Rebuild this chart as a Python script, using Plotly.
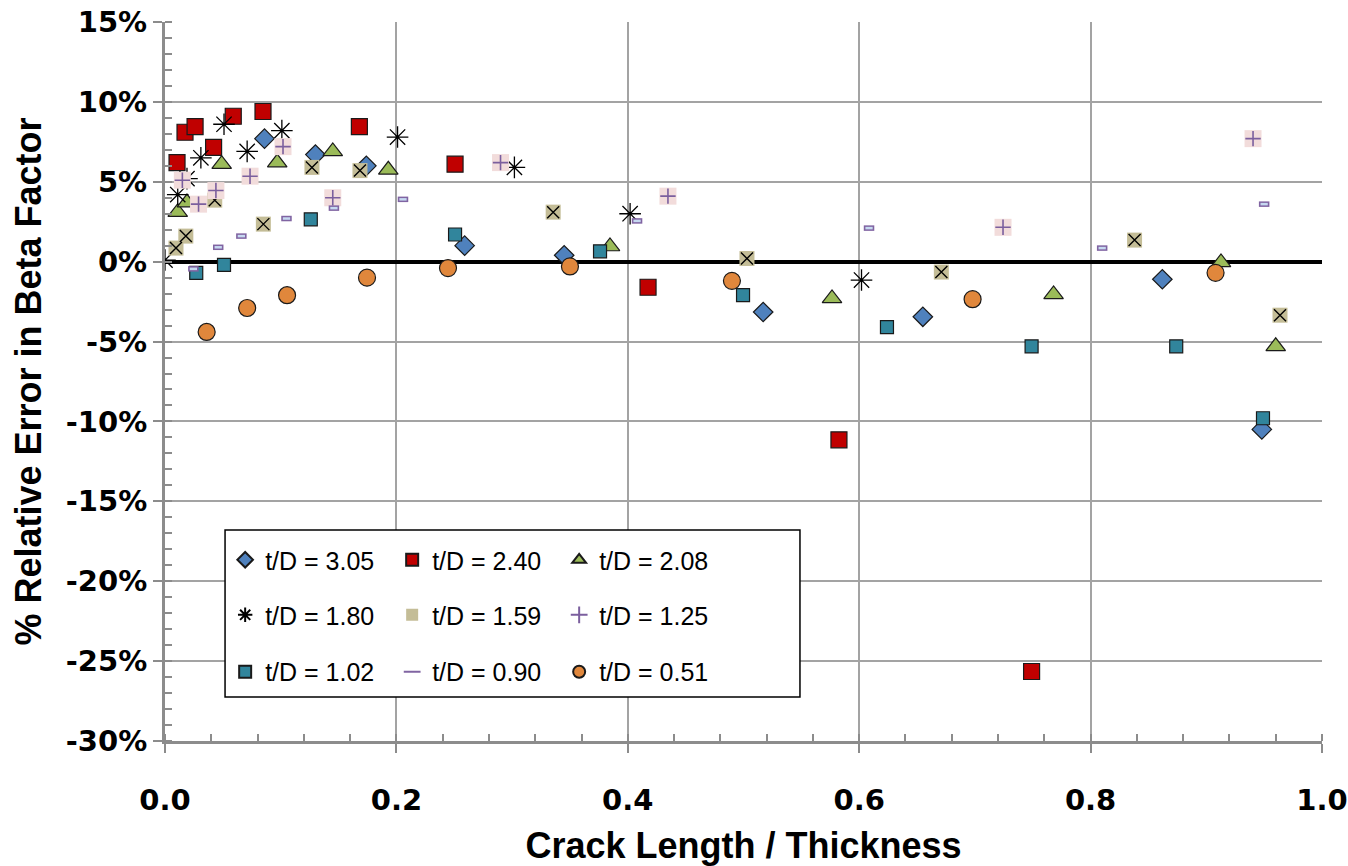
import plotly.graph_objects as go

# ---------------- data (percent relative error vs crack length / thickness) ----------------
x_305 = [0.086, 0.130, 0.174, 0.259, 0.345, 0.517, 0.655, 0.862, 0.948]
y_305 = [7.7, 6.7, 6.0, 1.0, 0.4, -3.15, -3.45, -1.1, -10.5]

x_240 = [0.0104, 0.0173, 0.026, 0.042, 0.059, 0.0847, 0.168, 0.2507, 0.4175, 0.5825, 0.749]
y_240 = [6.2, 8.1, 8.45, 7.15, 9.1, 9.4, 8.45, 6.1, -1.6, -11.15, -25.65]

x_208 = [0.011, 0.019, 0.049, 0.097, 0.145, 0.193, 0.3846, 0.5765, 0.768, 0.9127, 0.960]
y_208 = [3.1, 3.7, 6.1, 6.2, 6.9, 5.75, 0.95, -2.3, -2.05, -0.05, -5.3]

x_180 = [0.0, 0.011, 0.019, 0.031, 0.051, 0.071, 0.101, 0.201, 0.302, 0.402, 0.602]
y_180 = [0.1, 4.2, 5.2, 6.5, 8.6, 6.9, 8.2, 7.8, 5.9, 3.0, -1.15]

x_159 = [0.0095, 0.018, 0.043, 0.085, 0.127, 0.1685, 0.3355, 0.503, 0.671, 0.838, 0.9637]
y_159 = [0.85, 1.6, 3.85, 2.35, 5.9, 5.7, 3.1, 0.2, -0.65, 1.35, -3.35]

x_125 = [0.015, 0.029, 0.044, 0.0735, 0.102, 0.145, 0.29, 0.4347, 0.7243, 0.9404]
y_125 = [5.1, 3.6, 4.45, 5.35, 7.2, 4.0, 6.2, 4.1, 2.15, 7.7]

x_102 = [0.027, 0.051, 0.126, 0.2507, 0.376, 0.4996, 0.624, 0.749, 0.874, 0.949]
y_102 = [-0.7, -0.2, 2.65, 1.7, 0.65, -2.1, -4.1, -5.3, -5.3, -9.8]

x_090 = [0.0245, 0.046, 0.066, 0.105, 0.146, 0.2057, 0.408, 0.6085, 0.81, 0.95]
y_090 = [-0.45, 0.9, 1.6, 2.7, 3.35, 3.9, 2.55, 2.1, 0.85, 3.6]

x_051 = [0.036, 0.071, 0.1055, 0.1746, 0.2446, 0.35, 0.49, 0.698, 0.908]
y_051 = [-4.4, -2.9, -2.1, -1.0, -0.4, -0.3, -1.2, -2.35, -0.7]

series_names = ["t/D = 3.05", "t/D = 2.40", "t/D = 2.08",
                "t/D = 1.80", "t/D = 1.59", "t/D = 1.25",
                "t/D = 1.02", "t/D = 0.90", "t/D = 0.51"]

x_tickvals = [0.0, 0.2, 0.4, 0.6, 0.8, 1.0]
x_ticktext = ["0.0", "0.2", "0.4", "0.6", "0.8", "1.0"]
y_tickvals = [15, 10, 5, 0, -5, -10, -15, -20, -25, -30]
y_ticktext = ["15%", "10%", "5%", "0%", "-5%", "-10%", "-15%", "-20%", "-25%", "-30%"]

FONT = "Liberation Sans, Arial, sans-serif"
TICKFONT = "DejaVu Sans, Liberation Sans, Arial, sans-serif"
EDGE = "#1a1a1a"

fig = go.Figure()

def add(x, y, name, legend, marker, showlegend=True):
    fig.add_trace(go.Scatter(x=x, y=y, mode="markers", name=name, legend=legend,
                             showlegend=showlegend, marker=marker, hoverinfo="x+y+name"))

# row 1
add(x_305, y_305, series_names[0], "legend",
    dict(symbol="diamond", size=15, color="#4F81BD", line=dict(color=EDGE, width=1.2)))
add(x_240, y_240, series_names[1], "legend",
    dict(symbol="square", size=16, color="#C00000", line=dict(color=EDGE, width=1.2)))
add(x_208, y_208, series_names[2], "legend",
    dict(symbol="triangle-up", size=17, color="#9BBB59", line=dict(color=EDGE, width=1.2)))
# row 2
add(x_180, y_180, series_names[3], "legend2",
    dict(symbol="asterisk-open", size=18, color="#000000", line=dict(color="#000000", width=1.3)))
add(x_159, y_159, series_names[4], "legend2",
    dict(symbol="square", size=15, color="#C4BD97", line=dict(width=0)))
add(x_159, y_159, series_names[4], "legend2",
    dict(symbol="x-thin-open", size=12, color="#000000", line=dict(color="#000000", width=1.4)),
    showlegend=False)
add(x_125, y_125, series_names[5], "legend2",
    dict(symbol="square", size=17, color="#F2DCDB", line=dict(width=0)), showlegend=False)
add(x_125, y_125, series_names[5], "legend2",
    dict(symbol="cross-thin-open", size=11, color="#7B5F9E", line=dict(color="#7B5F9E", width=1.6)))
# row 3
add(x_102, y_102, series_names[6], "legend3",
    dict(symbol="square", size=13, color="#31859C", line=dict(color=EDGE, width=1.2)))
add(x_090, y_090, series_names[7], "legend3",
    dict(symbol="line-ew-open", size=7.5, color="#8064A2", line=dict(color="#8064A2", width=5.5)))
add(x_090, y_090, series_names[7], "legend3",
    dict(symbol="line-ew-open", size=5.2, color="#C6D9F1", line=dict(color="#C6D9F1", width=2.5)),
    showlegend=False)
add(x_051, y_051, series_names[8], "legend3",
    dict(symbol="circle", size=17, color="#E0873C", line=dict(color=EDGE, width=1.2)))

GRID = "#A3A3A3"
AX = "#8C8C8C"

fig.update_xaxes(
    range=[0, 1], tickmode="array", tickvals=x_tickvals, ticktext=x_ticktext,
    showgrid=True, gridcolor=GRID, gridwidth=2,
    showline=True, linecolor=AX, linewidth=3, zeroline=False,
    ticks="outside", ticklen=9, tickwidth=2, tickcolor=AX,
    minor=dict(tickmode="linear", tick0=0, dtick=0.04, ticks="inside", ticklen=7,
               tickwidth=1.5, tickcolor=AX, showgrid=False),
    tickfont=dict(family=TICKFONT, size=29, color="#000000", weight="bold"),
    ticklabelstandoff=22,
    title=dict(text="<b>Crack Length / Thickness</b>", standoff=26,
               font=dict(family=FONT, size=36, color="#000000")),
)
fig.update_yaxes(
    range=[-30, 15], tickmode="array", tickvals=y_tickvals, ticktext=y_ticktext,
    showgrid=True, gridcolor=GRID, gridwidth=2,
    showline=True, linecolor=AX, linewidth=3,
    zeroline=True, zerolinecolor="#000000", zerolinewidth=4,
    ticks="outside", ticklen=9, tickwidth=2, tickcolor=AX,
    minor=dict(tickmode="linear", tick0=0, dtick=1, ticks="inside", ticklen=7,
               tickwidth=1.5, tickcolor=AX, showgrid=False),
    tickfont=dict(family=TICKFONT, size=29, color="#000000", weight="bold"),
    title=dict(text="<b>% Relative Error in Beta Factor</b>", standoff=14,
               font=dict(family=FONT, size=36, color="#000000")),
)

leg_common = dict(orientation="h", xanchor="left", yanchor="middle", x=0.052,
                  entrywidth=122, entrywidthmode="pixels", bgcolor="rgba(0,0,0,0)",
                  borderwidth=0, itemsizing="constant",
                  font=dict(family=FONT, size=25, color="#000000"))

fig.update_layout(
    width=1348, height=866,
    margin=dict(l=165, r=26, t=22, b=125, autoexpand=False),
    plot_bgcolor="#FFFFFF", paper_bgcolor="#FFFFFF",
    font=dict(family=FONT, color="#000000"),
    legend=dict(y=0.2517, **leg_common),
    legend2=dict(y=0.1752, **leg_common),
    legend3=dict(y=0.096, **leg_common),
    shapes=[dict(type="rect", xref="paper", yref="paper", x0=0.0519, x1=0.5488,
                 y0=0.0612, y1=0.2935, fillcolor="#FFFFFF",
                 line=dict(color="#000000", width=1.5), layer="above")],
)

fig.write_html("out.html", config={"displayModeBar": False},
               post_script="document.body.style.margin='0px';")
